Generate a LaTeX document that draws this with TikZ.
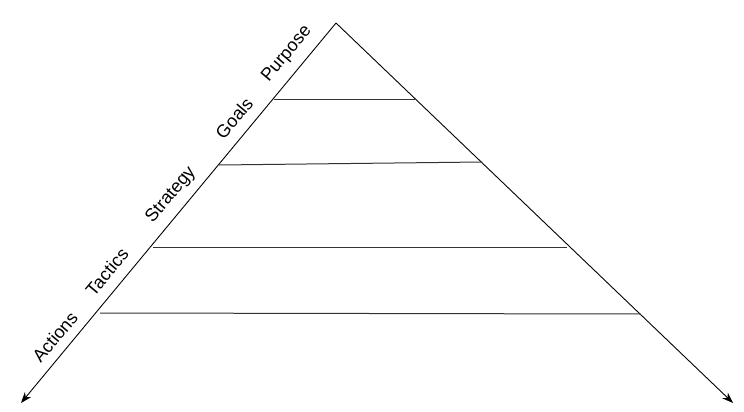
\documentclass[tikz,border=0pt]{standalone}
\usepackage{fontspec}
\setmainfont{Liberation Sans}
\usetikzlibrary{arrows.meta}
\begin{document}
\begin{tikzpicture}[x=1pt,y=-1pt,
  edge/.style={draw=black,line width=0.9pt,-{Stealth[length=11pt,width=8pt]}},
  level/.style={draw=black!80,line width=1pt},
  lbl/.style={rotate=50,font=\fontsize{18}{21}\selectfont,inner sep=0pt}]
\useasboundingbox (0,0) rectangle (744,412);
\fill[white] (0,0) rectangle (744,412);
\coordinate (A) at (336,23);
\coordinate (L) at (21,403);
\coordinate (R) at (733,403);
\coordinate (l1) at (274,99);  \coordinate (r1) at (415,99);
\coordinate (l2) at (219,165); \coordinate (r2) at (482,162);
\coordinate (l3) at (153,247); \coordinate (r3) at (567,247);
\coordinate (l4) at (100,313); \coordinate (r4) at (641,314);
\draw[edge] (A) -- (L);
\draw[edge] (A) -- (R);
\draw[level] (l1) -- (r1);
\draw[level] (l2) -- (r2);
\draw[level] (l3) -- (r3);
\draw[level] (l4) -- (r4);
\node[lbl] (purpose) at (287,54) {Purpose};
\node[lbl] (goals) at (234,118) {Goals};
\node[lbl] (strategy) at (171,195) {Strategy};
\node[lbl] (tactics) at (107,272) {Tactics};
\node[lbl] (actions) at (55,337) {Actions};
\end{tikzpicture}
\end{document}
